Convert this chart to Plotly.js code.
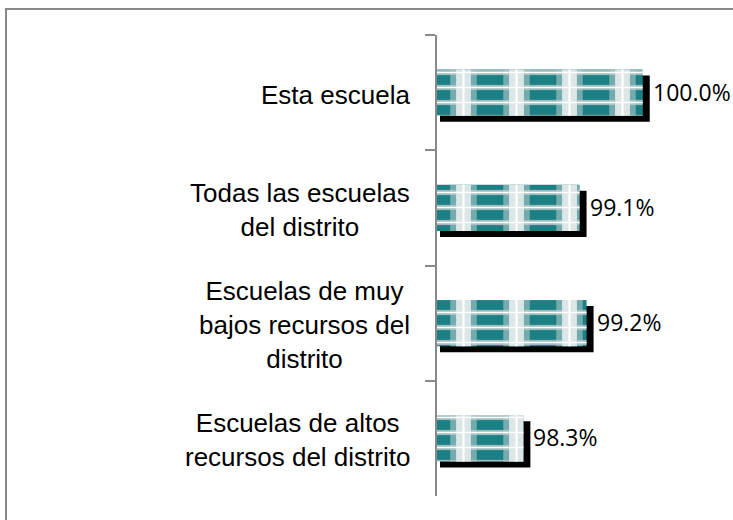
<!DOCTYPE html>
<html>
<head>
<meta charset="utf-8">
<script src="https://cdn.plot.ly/plotly-3.0.1.min.js"></script>
<style>
  html, body { margin: 0; padding: 0; background: #fff; }
  #wrap { position: relative; width: 733px; height: 520px; overflow: hidden; }
  #chart { position: absolute; left: 0; top: 0; width: 733px; height: 520px; }
  #frame { position: absolute; left: 5px; top: 8px; width: 740px; height: 530px;
           border-top: 2px solid #898989; border-left: 2px solid #898989; pointer-events: none; }
</style>
</head>
<body>
<div id="wrap">
  <div id="chart"></div>
  <div id="frame"></div>
</div>
<script>
// ---- data ----
const categories = [
  "Esta escuela",
  "Todas las escuelas<br>del distrito",
  "Escuelas de muy<br>bajos recursos del<br>distrito",
  "Escuelas de altos<br>recursos del distrito"
];
const values = [100.0, 99.1, 99.2, 98.3];
const valueLabels = ["100.0%", "99.1%", "99.2%", "98.3%"];

// ---- styling / layout ----
const xMin = 97.07, xMax = 101.1;
const barWidth = 0.4;
const pxPerUnit = 283 / (xMax - xMin);
const shadowDx = 7 / pxPerUnit;      // shadow extends ~7px to the right
const shadowDy = 6 / 115;            // shadow drops ~6px
const shadowBase = xMin + 3 / pxPerUnit;

const teal = "#1b8084";

const shadow = {
  type: "bar", orientation: "h", y: categories,
  x: values.map(v => v + shadowDx - shadowBase),
  base: shadowBase,
  width: barWidth, offset: -barWidth / 2 + shadowDy,
  marker: { color: "#000000", line: { width: 0 } },
  hoverinfo: "skip", showlegend: false
};
const barBase = {
  type: "bar", orientation: "h", y: categories, x: values,
  width: barWidth, offset: -barWidth / 2,
  marker: { color: teal, line: { width: 0 },
            pattern: { shape: "-", fgcolor: "#9dbbbc", bgcolor: teal, size: 15, solidity: 0.35 } },
  showlegend: false
};
const barMid = {
  type: "bar", orientation: "h", y: categories, x: values,
  width: barWidth, offset: -barWidth / 2,
  marker: { color: "rgba(0,0,0,0)", line: { width: 0 },
            pattern: { shape: "|", fgcolor: "rgba(175,200,201,0.6)", bgcolor: "rgba(0,0,0,0)", size: 53, solidity: 0.5 } },
  hoverinfo: "skip", showlegend: false
};
const barLight = {
  type: "bar", orientation: "h", y: categories, x: values,
  width: barWidth, offset: -barWidth / 2,
  marker: { color: "rgba(0,0,0,0)", line: { width: 0 },
            pattern: { shape: "|", fgcolor: "#dce6e6", bgcolor: "rgba(0,0,0,0)", size: 53, solidity: 0.28 } },
  hoverinfo: "skip", showlegend: false
};
const barHLines = {
  type: "bar", orientation: "h", y: categories, x: values,
  width: barWidth, offset: -barWidth / 2,
  marker: { color: "rgba(0,0,0,0)", line: { width: 0 },
            pattern: { shape: "-", fgcolor: "#ffffff", bgcolor: "rgba(0,0,0,0)", size: 15, solidity: 0.1 } },
  hoverinfo: "skip", showlegend: false
};
const barVLines = {
  type: "bar", orientation: "h", y: categories, x: values,
  width: barWidth, offset: -barWidth / 2,
  marker: { color: "rgba(0,0,0,0)", line: { width: 0 },
            pattern: { shape: "|", fgcolor: "#ffffff", bgcolor: "rgba(0,0,0,0)", size: 53, solidity: 0.04 } },
  hoverinfo: "skip", showlegend: false
};

const catFont = { family: "Liberation Sans, Arial, sans-serif", size: 26, color: "#000000" };
const valFont = { family: "Open Sans, Noto Sans, sans-serif", size: 23, color: "#000000" };

const annotations = [];
categories.forEach((c, i) => {
  annotations.push({
    xref: "paper", yref: "y", x: 0, y: c, xanchor: "right", yanchor: "middle",
    xshift: -25, yshift: -2, text: c, align: "center", showarrow: false, font: catFont
  });
  annotations.push({
    xref: "x", yref: "y", x: values[i] + shadowDx, y: c, xanchor: "left", yanchor: "middle",
    xshift: 1, yshift: 1, text: valueLabels[i], showarrow: false, font: valFont
  });
});

const layout = {
  width: 733, height: 520,
  margin: { l: 437, r: 13, t: 35, b: 24, pad: 0 },
  paper_bgcolor: "#ffffff", plot_bgcolor: "#ffffff",
  barmode: "overlay",
  showlegend: false,
  xaxis: { range: [xMin, xMax], visible: false, fixedrange: true },
  yaxis: {
    type: "category", autorange: "reversed",
    showline: true, linecolor: "#898989", linewidth: 2,
    ticks: "outside", tickson: "boundaries", ticklen: 10, tickcolor: "#898989", tickwidth: 2,
    showticklabels: false, showgrid: false, zeroline: false, fixedrange: true
  },
  annotations: annotations
};

Plotly.newPlot("chart", [shadow, barBase, barMid, barLight, barHLines, barVLines], layout,
  { staticPlot: true, displayModeBar: false });
</script>
</body>
</html>
